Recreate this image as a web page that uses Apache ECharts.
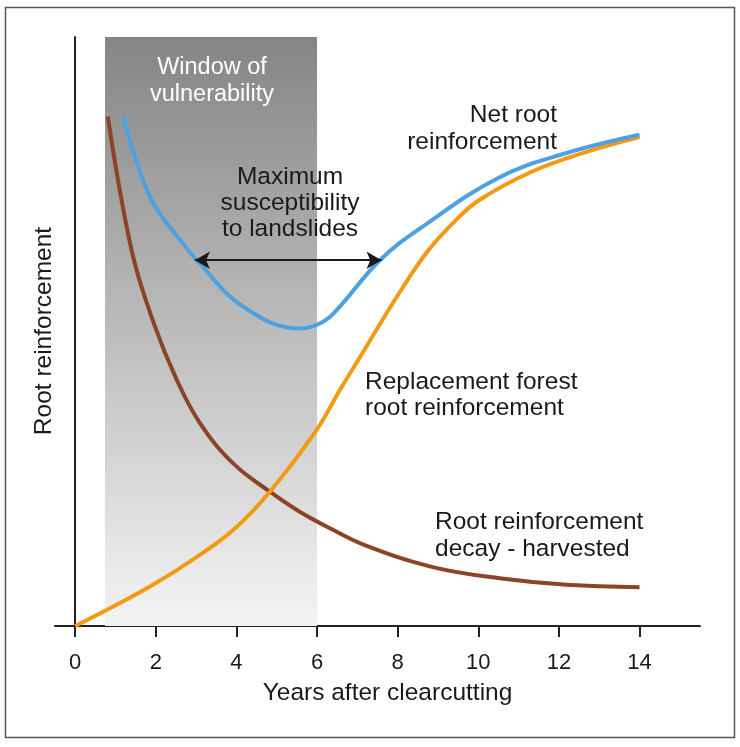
<!DOCTYPE html>
<html>
<head>
<meta charset="utf-8">
<script src="https://cdn.jsdelivr.net/npm/echarts@6/dist/echarts.min.js"></script>
<style>
html,body{margin:0;padding:0;background:#fff;}
#chart{width:740px;height:747px;}
</style>
</head>
<body>
<div id="chart"></div>
<script>
// Data (x = years after clearcutting, y = relative root reinforcement, 0-100)
var xTicks = [0, 2, 4, 6, 8, 10, 12, 14];
var decayHarvested = [[0.81,86.5],[1.40,63.8],[1.94,51.6],[2.52,41.8],[3.10,34.4],[3.92,27.6],[4.83,22.8],[5.57,19.4],[6.32,16.6],[7.23,13.6],[8.87,10.0],[10.53,8.1],[12.19,7.0],[14,6.6]];
var replacementForest = [[0,0],[0.97,3.4],[1.93,7.0],[2.9,11.2],[3.92,16.3],[4.83,22.8],[5.99,33.3],[6.57,40.1],[7.15,46.6],[7.98,55.9],[8.72,63.4],[9.36,68.3],[10.0,72.2],[11.35,77.2],[12.69,80.5],[14,83.0]];
var netRoot = [[1.2,86.5],[1.86,72.8],[2.69,64.8],[3.02,62.1],[4.17,54.2],[5.58,50.5],[5.99,51.1],[6.4,53.0],[7.56,62.1],[8.64,67.9],[10.53,76.2],[12.19,80.3],[14,83.4]];
var windowRange = [0.74, 6.0];
var arrowRange = [2.97, 7.6];
var arrowLevel = 62.1;

var FONT = '"Liberation Sans", Arial, Helvetica, sans-serif';
var chart = echarts.init(document.getElementById('chart'), null, {renderer:'canvas'});
var option = {
  animation: false,
  backgroundColor: '#fff',
  grid: {left: 55, right: 40, top: 37, bottom: 121},
  xAxis: {
    type: 'value', min: -0.5, max: 15.5,
    name: 'Years after clearcutting', nameLocation: 'middle', nameGap: 55,
    nameTextStyle: {fontFamily: FONT, fontSize: 24.5, color: '#1a1a1a', padding: [0,0,0,20]},
    axisLine: {show: true, onZero: false, lineStyle: {color: '#222', width: 2}},
    axisTick: {show: true, length: 11, lineStyle: {color: '#222', width: 2}, customValues: xTicks},
    axisLabel: {fontFamily: FONT, fontSize: 22, color: '#1a1a1a', margin: 26, customValues: xTicks},
    splitLine: {show: false}
  },
  yAxis: {
    type: 'value', min: 0, max: 100,
    axisLine: {show: true, onZero: true, lineStyle: {color: '#222', width: 2}},
    axisTick: {show: false},
    axisLabel: {show: false},
    splitLine: {show: false}
  },
  series: [
    {
      type: 'line', data: [], z: 1,
      markArea: {
        silent: true,
        itemStyle: {color: {type: 'linear', x: 0, y: 0, x2: 0, y2: 1, colorStops: [{offset: 0, color: '#858585'}, {offset: 1, color: '#f4f4f4'}]}},
        data: [[{xAxis: windowRange[0], yAxis: 100}, {xAxis: windowRange[1], yAxis: 0}]]
      }
    },
    {
      name: 'Root reinforcement decay - harvested', type: 'line', data: decayHarvested, smooth: 0.4,
      showSymbol: false, z: 3, lineStyle: {color: '#8b4426', width: 4}
    },
    {
      name: 'Replacement forest root reinforcement', type: 'line', data: replacementForest, smooth: 0.4,
      showSymbol: false, z: 3, lineStyle: {color: '#f39a12', width: 4}
    },
    {
      name: 'Net root reinforcement', type: 'line', data: netRoot, smooth: 0.4,
      showSymbol: false, z: 4, lineStyle: {color: '#4ea1e0', width: 4},
      markLine: {
        silent: true, symbol: ['arrow', 'arrow'], symbolSize: [13, 15],
        label: {show: false},
        lineStyle: {color: '#1a1a1a', width: 2, type: 'solid'},
        data: [[{coord: [arrowRange[0], arrowLevel]}, {coord: [arrowRange[1], arrowLevel]}]]
      }
    }
  ],
  graphic: [
    {type: 'rect', shape: {x: 5.5, y: 7.5, width: 729, height: 730}, style: {fill: null, stroke: '#555', lineWidth: 1.5}, silent: true, z: 0},
    {type: 'text', x: 44, y: 331, rotation: Math.PI / 2, style: {text: 'Root reinforcement', fill: '#1a1a1a', font: '24.5px ' + FONT, align: 'center', verticalAlign: 'middle'}, z: 10},
    {type: 'text', x: 212, y: 81, style: {text: 'Window of\nvulnerability', fill: '#fff', font: '23.5px ' + FONT, align: 'center', verticalAlign: 'middle', lineHeight: 27}, z: 10},
    {type: 'text', x: 557, y: 129, style: {text: 'Net root\nreinforcement', fill: '#1a1a1a', font: '24.5px ' + FONT, align: 'right', verticalAlign: 'middle', lineHeight: 27}, z: 10},
    {type: 'text', x: 290, y: 203, style: {text: 'Maximum\nsusceptibility\nto landslides', fill: '#1a1a1a', font: '24.5px ' + FONT, align: 'center', verticalAlign: 'middle', lineHeight: 26}, z: 10},
    {type: 'text', x: 365, y: 395, style: {text: 'Replacement forest\nroot reinforcement', fill: '#1a1a1a', font: '24.5px ' + FONT, align: 'left', verticalAlign: 'middle', lineHeight: 26}, z: 10},
    {type: 'text', x: 435, y: 536, style: {text: 'Root reinforcement\ndecay - harvested', fill: '#1a1a1a', font: '24.5px ' + FONT, align: 'left', verticalAlign: 'middle', lineHeight: 27}, z: 10}
  ]
};
chart.setOption(option);
</script>
</body>
</html>
